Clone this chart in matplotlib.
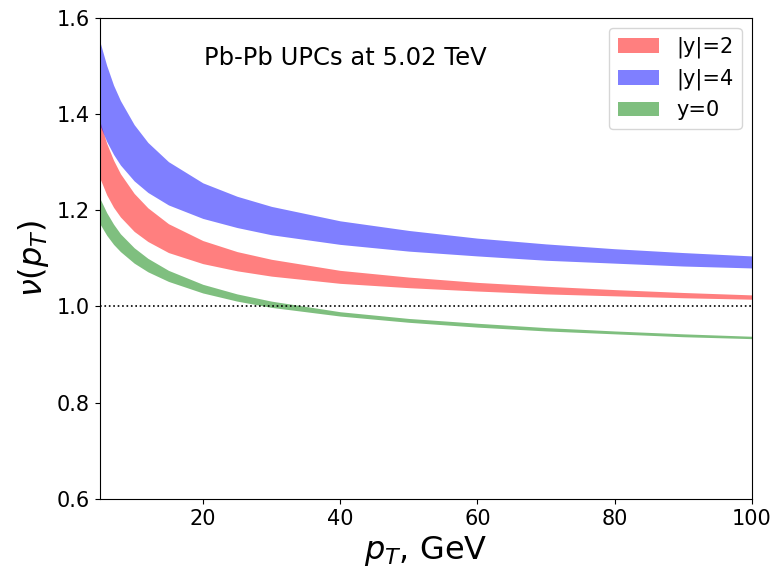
import numpy as np
import matplotlib
matplotlib.use('Agg')
import matplotlib.pyplot as plt

# pT grid (GeV) and band edges
pt = [5, 6, 7, 8, 10, 12, 15, 20, 25, 30, 40, 50, 60, 70, 80, 90, 100]

y2_hi = [1.385, 1.339, 1.304, 1.276, 1.235, 1.205, 1.172, 1.137, 1.114, 1.098,
         1.075, 1.061, 1.050, 1.042, 1.035, 1.029, 1.024]
y2_lo = [1.267, 1.232, 1.206, 1.186, 1.156, 1.135, 1.112, 1.089, 1.074, 1.063,
         1.048, 1.039, 1.032, 1.026, 1.022, 1.018, 1.015]

y4_hi = [1.551, 1.501, 1.460, 1.428, 1.378, 1.341, 1.301, 1.257, 1.229, 1.208,
         1.178, 1.158, 1.142, 1.130, 1.120, 1.112, 1.105]
y4_lo = [1.377, 1.343, 1.316, 1.294, 1.261, 1.237, 1.211, 1.183, 1.164, 1.149,
         1.129, 1.115, 1.105, 1.096, 1.090, 1.084, 1.080]

y0_hi = [1.225, 1.195, 1.171, 1.151, 1.122, 1.100, 1.075, 1.046, 1.026, 1.011,
         0.989, 0.975, 0.965, 0.956, 0.949, 0.943, 0.938]
y0_lo = [1.172, 1.148, 1.129, 1.114, 1.090, 1.072, 1.052, 1.028, 1.011, 0.998,
         0.980, 0.967, 0.957, 0.949, 0.943, 0.937, 0.933]

fig = plt.figure(figsize=(7.8, 5.76), dpi=100)
ax = fig.add_axes([0.128, 0.134, 0.836, 0.835])

ax.fill_between(pt, y2_lo, y2_hi, color='red', alpha=0.5, lw=0, label='|y|=2')
ax.fill_between(pt, y4_lo, y4_hi, color='blue', alpha=0.5, lw=0, label='|y|=4')
ax.fill_between(pt, y0_lo, y0_hi, color='green', alpha=0.5, lw=0, label='y=0')
ax.axhline(1.0, color='black', ls=':', lw=1.2)

ax.set_xlim(5, 100)
ax.set_ylim(0.6, 1.6)
ax.set_xticks([20, 40, 60, 80, 100])
ax.set_yticks([0.6, 0.8, 1.0, 1.2, 1.4, 1.6])
ax.tick_params(labelsize=15)
ax.set_xlabel('$p_T$, GeV', fontsize=23)
ax.set_ylabel(r'$\nu(p_T)$', fontsize=23)

ax.text(40.7, 1.517, 'Pb-Pb UPCs at 5.02 TeV', fontsize=17.5, ha='center', va='center')
ax.legend(loc='upper right', fontsize=15)

fig.savefig('out.png', dpi=100)
